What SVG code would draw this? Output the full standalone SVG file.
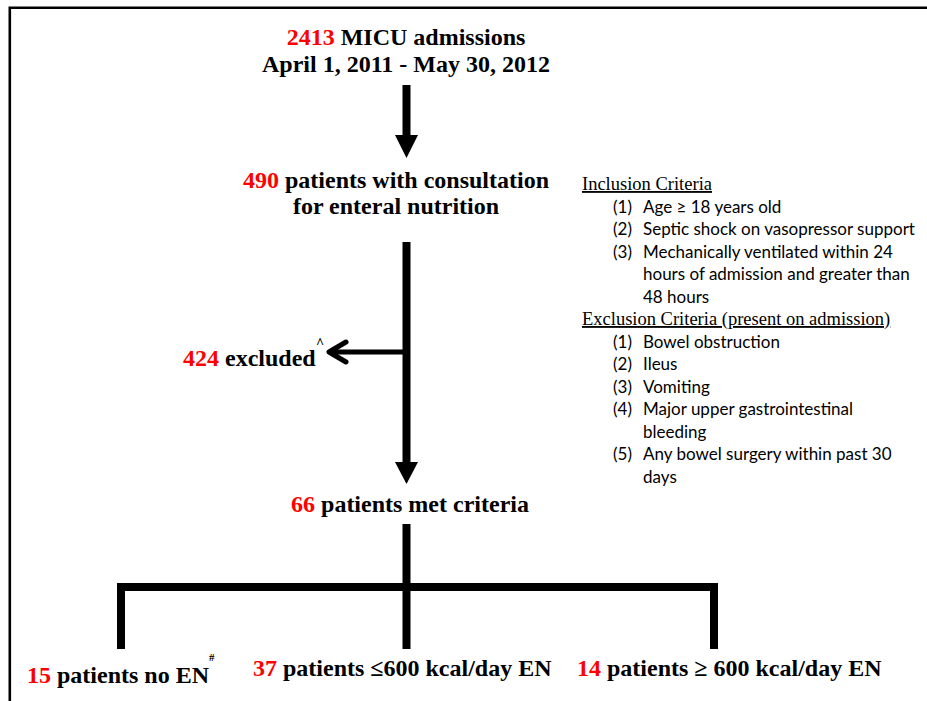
<svg xmlns="http://www.w3.org/2000/svg" width="927" height="701" viewBox="0 0 927 701">
<style>
.b{font-family:"Liberation Serif","Times New Roman",serif;font-weight:bold;font-size:24px;fill:#000}
.r{fill:#ff0000}
.h{font-family:"Liberation Serif","Times New Roman",serif;font-size:18.5px;fill:#000;text-decoration:underline}
.c{font-family:Lato,"Liberation Sans",sans-serif;font-size:17px;fill:#000}
.sup{font-family:"Liberation Serif","Times New Roman",serif;font-weight:bold;font-size:13px;fill:#000}
</style>
<rect width="927" height="701" fill="#fff"/>
<path d="M9.8,701 V7.7 H927" fill="none" stroke="#000" stroke-width="2.6"/>
<g id="connectors">
  <rect x="402.5" y="85" width="8" height="51" fill="#000"/>
  <polygon points="395,135 418,135 406.5,158" fill="#000"/>
  <rect x="402.5" y="242" width="8" height="221" fill="#000"/>
  <polygon points="395,462 418,462 406.5,484" fill="#000"/>
  <path d="M404,352 H330" stroke="#000" stroke-width="5" fill="none"/>
  <path d="M346,342 L329,352 L346,362" stroke="#000" stroke-width="5" fill="none" stroke-linecap="round" stroke-linejoin="round"/>
  <rect x="402.5" y="524" width="8" height="125" fill="#000"/>
  <path d="M121,649 V587 H714 V649" stroke="#000" stroke-width="8" fill="none"/>
</g>
<g id="n1">
  <text class="b" x="406" y="45" text-anchor="middle"><tspan class="r">2413</tspan> MICU admissions</text>
  <text class="b" x="406" y="72" text-anchor="middle">April 1, 2011 - May 30, 2012</text>
</g>
<g id="n2">
  <text class="b" x="396" y="188" text-anchor="middle"><tspan class="r">490</tspan> patients with consultation</text>
  <text class="b" x="396" y="214" text-anchor="middle">for enteral nutrition</text>
</g>
<g id="n3">
  <text class="b" x="183" y="366"><tspan class="r">424</tspan> excluded</text>
  <text class="sup" x="316" y="348" style="font-size:14px">^</text>
</g>
<g id="criteria">
  <text class="h" x="582" y="190">Inclusion Criteria</text>
  <text class="c" x="613" y="212.5">(1)</text><text class="c" x="643" y="212.5">Age ≥ 18 years old</text>
  <text class="c" x="613" y="235">(2)</text><text class="c" x="643" y="235">Septic shock on vasopressor support</text>
  <text class="c" x="613" y="257.5">(3)</text><text class="c" x="643" y="257.5">Mechanically ventilated within 24</text>
  <text class="c" x="643" y="280">hours of admission and greater than</text>
  <text class="c" x="643" y="302.5">48 hours</text>
  <text class="h" x="582" y="325">Exclusion Criteria (present on admission)</text>
  <text class="c" x="613" y="347.5">(1)</text><text class="c" x="643" y="347.5">Bowel obstruction</text>
  <text class="c" x="613" y="370">(2)</text><text class="c" x="643" y="370">Ileus</text>
  <text class="c" x="613" y="392.5">(3)</text><text class="c" x="643" y="392.5">Vomiting</text>
  <text class="c" x="613" y="415">(4)</text><text class="c" x="643" y="415">Major upper gastrointestinal</text>
  <text class="c" x="643" y="437.5">bleeding</text>
  <text class="c" x="613" y="460">(5)</text><text class="c" x="643" y="460">Any bowel surgery within past 30</text>
  <text class="c" x="643" y="482.5">days</text>
</g>
<g id="n4">
  <text class="b" x="410" y="512" text-anchor="middle"><tspan class="r">66</tspan> patients met criteria</text>
</g>
<g id="n5">
  <text class="b" x="27" y="683"><tspan class="r">15</tspan> patients no EN</text>
  <text class="sup" x="209" y="661" style="font-size:11px">#</text>
</g>
<g id="n6">
  <text class="b" x="253" y="676"><tspan class="r">37</tspan> patients ≤600 kcal/day EN</text>
</g>
<g id="n7">
  <text class="b" x="577" y="676"><tspan class="r">14</tspan> patients ≥ 600 kcal/day EN</text>
</g>
</svg>
